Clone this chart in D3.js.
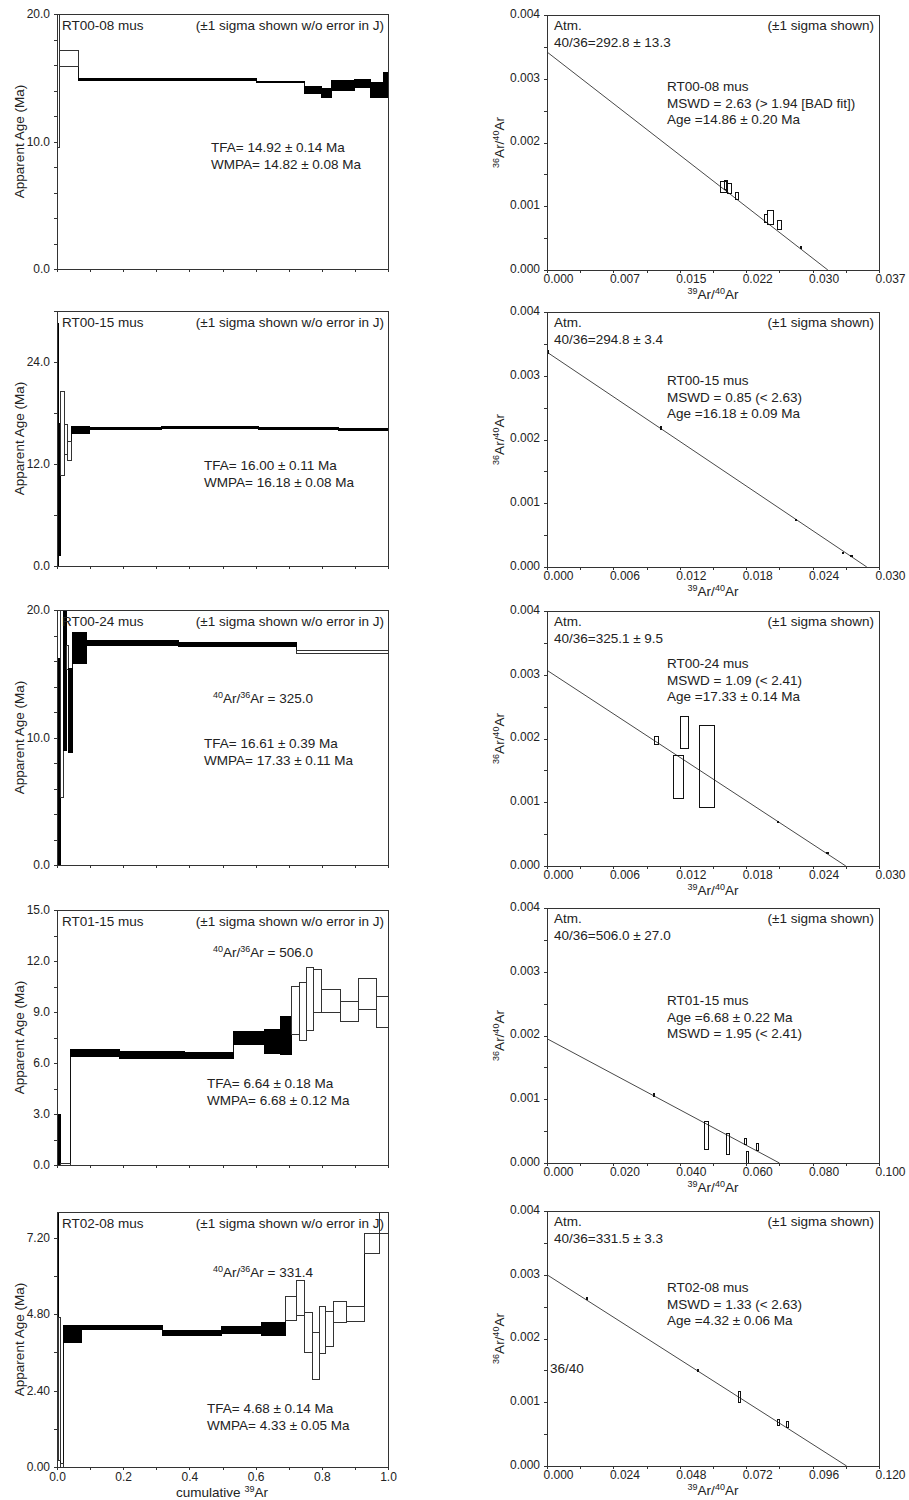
<!DOCTYPE html>
<html>
<head>
<meta charset="utf-8">
<script src="https://cdn.jsdelivr.net/npm/d3@7"></script>
<style>
  body { margin: 0; background: #fff; }
  text { font-family: "Liberation Sans", Arial, sans-serif; fill: #222; }
</style>
</head>
<body>
<svg id="chart" width="909" height="1500"></svg>
<script>
// ---- data ----
const samples = ["RT00-08 mus", "RT00-15 mus", "RT00-24 mus", "RT01-15 mus", "RT02-08 mus"]

// age spectra steps: [cum 39Ar start, cum 39Ar end, age -1s, age +1s, in plateau]
const spec0008 = [
  [0.000, 0.007, 9.5, 21.0, 0],
  [0.007, 0.064, 15.85, 17.1, 0],
  [0.064, 0.603, 14.80, 14.92, 1],
  [0.603, 0.749, 14.60, 14.72, 1],
  [0.749, 0.800, 13.80, 14.33, 1],
  [0.800, 0.828, 13.44, 14.15, 1],
  [0.828, 0.900, 14.02, 14.80, 1],
  [0.900, 0.946, 14.23, 14.86, 1],
  [0.946, 0.986, 13.44, 14.60, 1],
  [0.986, 1.000, 13.49, 15.38, 1]
]
const spec0015 = [
  [0.000, 0.005, 0.0, 28.5, 1],
  [0.005, 0.012, 1.2, 16.8, 1],
  [0.012, 0.024, 10.7, 20.5, 0],
  [0.024, 0.031, 13.1, 16.6, 0],
  [0.031, 0.044, 12.4, 14.6, 0],
  [0.044, 0.097, 15.6, 16.45, 1],
  [0.097, 0.316, 16.05, 16.25, 1],
  [0.316, 0.608, 16.2, 16.45, 1],
  [0.608, 0.850, 16.1, 16.25, 1],
  [0.850, 1.000, 16.0, 16.15, 1]
]
const spec0024 = [
  [0.000, 0.012, 0.0, 16.2, 1],
  [0.012, 0.020, 5.3, 21.0, 0],
  [0.020, 0.029, 9.0, 21.0, 1],
  [0.029, 0.034, 15.3, 17.2, 0],
  [0.034, 0.046, 8.8, 15.4, 1],
  [0.046, 0.088, 15.8, 18.2, 1],
  [0.088, 0.367, 17.2, 17.6, 1],
  [0.367, 0.724, 17.15, 17.45, 1],
  [0.724, 1.000, 16.55, 16.8, 0]
]
const spec0115 = [
  [0.000, 0.003, 2.9, 16.0, 1],
  [0.003, 0.010, 0.0, 2.95, 1],
  [0.010, 0.042, 0.0, 0.1, 0],
  [0.042, 0.190, 6.38, 6.81, 1],
  [0.190, 0.385, 6.29, 6.67, 1],
  [0.385, 0.533, 6.25, 6.64, 1],
  [0.533, 0.628, 7.07, 7.85, 1],
  [0.628, 0.674, 6.58, 7.98, 1],
  [0.674, 0.709, 6.52, 8.72, 1],
  [0.709, 0.734, 7.7, 10.5, 0],
  [0.734, 0.754, 7.3, 10.73, 0],
  [0.754, 0.774, 7.9, 11.6, 0],
  [0.774, 0.800, 8.95, 11.5, 0],
  [0.800, 0.855, 9.0, 10.3, 0],
  [0.855, 0.912, 8.47, 9.63, 0],
  [0.912, 0.964, 9.15, 11.0, 0],
  [0.964, 1.000, 8.1, 9.9, 0]
]
const spec0208 = [
  [0.000, 0.004, 4.7, 8.2, 1],
  [0.004, 0.010, 0.2, 4.7, 0],
  [0.010, 0.020, 0.0, 0.1, 0],
  [0.020, 0.075, 3.91, 4.43, 1],
  [0.075, 0.319, 4.32, 4.43, 1],
  [0.319, 0.497, 4.11, 4.28, 1],
  [0.497, 0.618, 4.18, 4.40, 1],
  [0.618, 0.690, 4.12, 4.53, 1],
  [0.690, 0.725, 4.59, 5.36, 0],
  [0.725, 0.749, 4.74, 5.86, 0],
  [0.749, 0.771, 3.59, 4.84, 0],
  [0.771, 0.792, 2.76, 4.21, 0],
  [0.792, 0.810, 3.55, 5.03, 0],
  [0.810, 0.835, 3.78, 4.87, 0],
  [0.835, 0.875, 4.53, 5.18, 0],
  [0.875, 0.928, 4.58, 5.03, 0],
  [0.928, 0.974, 6.71, 7.33, 0],
  [0.974, 1.000, 7.33, 8.2, 0]
]
const spectra = [spec0008, spec0015, spec0024, spec0115, spec0208]
const ageMax = [20, 30, 20, 15, 8]
const ageLabels = [[0, 10, 20], [0, 12, 24], [0, 10, 20], [0, 3, 6, 9, 12, 15], [0, 2.4, 4.8, 7.2]]
const ageMinor = [2, 6, 2, 1.5, 1.2]
const ageFmt = [".1f", ".1f", ".1f", ".1f", ".2f"]
const tfa = ["TFA= 14.92 ± 0.14 Ma", "TFA= 16.00 ± 0.11 Ma", "TFA= 16.61 ± 0.39 Ma", "TFA= 6.64 ± 0.18 Ma", "TFA= 4.68 ± 0.14 Ma"]
const wmpa = ["WMPA= 14.82 ± 0.08 Ma", "WMPA= 16.18 ± 0.08 Ma", "WMPA= 17.33 ± 0.11 Ma", "WMPA= 6.68 ± 0.12 Ma", "WMPA= 4.33 ± 0.05 Ma"]
const trapped = [null, null, "325.0", "506.0", "331.4"]

// isochron points: [39Ar/40Ar, ±1s, 36Ar/40Ar, ±1s]
const iso0008 = [
  [0.01967, 0.00028, 0.001300, 0.000090],
  [0.01998, 0.00015, 0.001335, 0.000065],
  [0.02035, 0.00022, 0.001275, 0.000075],
  [0.02119, 0.00013, 0.001165, 0.000055],
  [0.02437, 0.00016, 0.000808, 0.000058],
  [0.02487, 0.00033, 0.000825, 0.000115],
  [0.02590, 0.00024, 0.000710, 0.000070],
  [0.02829, 0.00008, 0.000356, 0.000015]
]
const iso0015 = [
  [0.00010, 0.00005, 0.003370, 0.00002],
  [0.01028, 0.00005, 0.002180, 0.00002],
  [0.02251, 0.00006, 0.000732, 0.00001],
  [0.02676, 0.00005, 0.000225, 0.00001],
  [0.02751, 0.00006, 0.000167, 0.00001]
]
const iso0024 = [
  [0.00990, 0.00015, 0.001965, 0.000065],
  [0.01188, 0.00042, 0.001394, 0.000337],
  [0.01240, 0.00035, 0.002097, 0.000248],
  [0.01448, 0.00068, 0.001555, 0.000644],
  [0.02085, 0.00006, 0.000693, 0.00001],
  [0.02535, 0.00005, 0.000208, 0.00001]
]
const iso0115 = [
  [0.03227, 0.00010, 0.001066, 0.00002],
  [0.04805, 0.00050, 0.000430, 0.000224],
  [0.05445, 0.00040, 0.000301, 0.000162],
  [0.05974, 0.00020, 0.000340, 0.000047],
  [0.06049, 0.00025, 0.000080, 0.000100],
  [0.06354, 0.00030, 0.000247, 0.000057]
]
const iso0208 = [
  [0.01423, 0.00008, 0.002630, 0.00002],
  [0.05463, 0.00008, 0.001495, 0.00002],
  [0.06947, 0.00030, 0.001081, 0.000091],
  [0.08364, 0.00025, 0.000682, 0.000047],
  [0.08690, 0.00030, 0.000651, 0.000052]
]
const isochrons = [iso0008, iso0015, iso0024, iso0115, iso0208]
const isoXMax = [0.037, 0.030, 0.030, 0.100, 0.120]
const isoYInt = [0.00342, 0.00337, 0.00307, 0.00195, 0.00300]   // 36/40 intercept
const isoXInt = [0.0313, 0.0289, 0.0270, 0.0700, 0.1083]        // 39/40 intercept
const atm = ["40/36=292.8 ± 13.3", "40/36=294.8 ± 3.4", "40/36=325.1 ± 9.5", "40/36=506.0 ± 27.0", "40/36=331.5 ± 3.3"]
const isoText = [
  ["MSWD = 2.63 (> 1.94 [BAD fit])", "Age =14.86 ± 0.20 Ma"],
  ["MSWD = 0.85 (< 2.63)", "Age =16.18 ± 0.09 Ma"],
  ["MSWD = 1.09 (< 2.41)", "Age =17.33 ± 0.14 Ma"],
  ["Age =6.68 ± 0.22 Ma", "MSWD = 1.95 (< 2.41)"],
  ["MSWD = 1.33 (< 2.63)", "Age =4.32 ± 0.06 Ma"]
]

// ---- layout ----
const H = 255
const leftX = [57, 388], rightX = [547, 879]
const leftTop = [14, 311, 610, 910, 1212]
const rightTop = [15, 312, 611, 908, 1211]
const tfaPos = [[211, 138], [204, 159], [204, 138], [207, 178], [207, 201]]
const trappedPos = [null, null, [213, 93], [213, 47], [213, 65]]
const isoTextY = [76, 73, 57, 97, 81]

const svg = d3.select("#chart")
const fs = "13.5px"
const r6 = v => Math.round(v * 1e6) / 1e6

function clip(id, x0, x1, top) {
  svg.append("clipPath").attr("id", id)
    .append("rect").attr("x", x0).attr("y", top).attr("width", x1 - x0).attr("height", H)
}

function styleAxis(g) {
  g.select(".domain").remove()
  g.selectAll("line").attr("stroke", "#333").attr("shape-rendering", "crispEdges")
  g.selectAll("text").attr("font-size", "12px").attr("font-family", null)
}

// age spectrum panels
spectra.forEach((steps, i) => {
  const top = leftTop[i]
  const x = d3.scaleLinear().domain([0, 1]).range(leftX)
  const y = d3.scaleLinear().domain([0, ageMax[i]]).range([top + H, top])
  const g = svg.append("g")
  clip("cl" + i, leftX[0], leftX[1], top)

  const marks = g.append("g").attr("clip-path", `url(#cl${i})`)
  // connecting verticals between steps
  marks.selectAll("line").data(d3.pairs(steps)).join("line")
    .attr("x1", d => x(d[0][1])).attr("x2", d => x(d[0][1]))
    .attr("y1", d => y(Math.min(d[0][2], d[1][2])))
    .attr("y2", d => y(Math.max(d[0][3], d[1][3])))
    .attr("stroke", "#111").attr("shape-rendering", "crispEdges")
  marks.selectAll("rect").data(steps).join("rect")
    .attr("x", d => x(d[0]))
    .attr("width", d => x(d[1]) - x(d[0]))
    .attr("y", d => {
      const h = y(d[2]) - y(d[3])
      return h < 1.5 ? (y(d[2]) + y(d[3])) / 2 - 0.75 : y(d[3])
    })
    .attr("height", d => Math.max(1.5, y(d[2]) - y(d[3])))
    .attr("fill", d => d[4] ? "#000" : "#fff")
    .attr("stroke", d => d[4] ? "#000" : "#333")
    .attr("shape-rendering", "crispEdges")

  g.append("rect").attr("x", leftX[0]).attr("y", top)
    .attr("width", leftX[1] - leftX[0]).attr("height", H)
    .attr("fill", "none").attr("stroke", "#333").attr("shape-rendering", "crispEdges")

  const last = i === spectra.length - 1
  g.append("g").attr("transform", `translate(0,${top + H})`)
    .call(d3.axisBottom(x).tickValues(d3.range(0, 11).map(k => k / 10)).tickSize(3).tickPadding(2)
      .tickFormat((d, k) => last && k % 2 === 0 ? d3.format(".1f")(d) : ""))
    .call(styleAxis)

  const minors = d3.range(0, Math.floor(ageMax[i] / ageMinor[i] + 1e-6) + 1).map(k => r6(k * ageMinor[i]))
  const yt = Array.from(new Set(minors.concat(ageLabels[i]))).sort((a, b) => a - b)
  g.append("g").attr("transform", `translate(${leftX[0]},0)`)
    .call(d3.axisLeft(y).tickValues(yt).tickSize(3).tickPadding(4)
      .tickFormat(d => ageLabels[i].some(v => Math.abs(v - d) < 1e-6) ? d3.format(ageFmt[i])(d) : ""))
    .call(styleAxis)

  g.append("text").attr("transform", `translate(24,${top + H / 2}) rotate(-90)`)
    .attr("text-anchor", "middle").attr("font-size", fs).text("Apparent Age (Ma)")

  g.append("text").attr("x", leftX[0] + 5).attr("y", top + 16).attr("font-size", fs).text(samples[i])
  g.append("text").attr("x", leftX[1] - 4).attr("y", top + 16).attr("text-anchor", "end")
    .attr("font-size", fs).text("(±1 sigma shown w/o error in J)")

  g.append("text").attr("x", tfaPos[i][0]).attr("y", top + tfaPos[i][1]).attr("font-size", fs).text(tfa[i])
  g.append("text").attr("x", tfaPos[i][0]).attr("y", top + tfaPos[i][1] + 17).attr("font-size", fs).text(wmpa[i])

  if (trapped[i]) {
    const t = g.append("text").attr("x", trappedPos[i][0]).attr("y", top + trappedPos[i][1]).attr("font-size", fs)
    t.append("tspan").attr("font-size", "9px").attr("dy", -5).text("40")
    t.append("tspan").attr("dy", 5).text("Ar/")
    t.append("tspan").attr("font-size", "9px").attr("dy", -5).text("36")
    t.append("tspan").attr("dy", 5).text("Ar = " + trapped[i])
  }

  if (last) {
    const t = g.append("text").attr("x", 222).attr("y", top + H + 30).attr("text-anchor", "middle").attr("font-size", fs)
    t.append("tspan").text("cumulative ")
    t.append("tspan").attr("font-size", "9px").attr("dy", -5).text("39")
    t.append("tspan").attr("dy", 5).text("Ar")
  }
})

function arLabel(t, a, b) {
  t.append("tspan").attr("font-size", "9px").attr("dy", -5).text(a)
  t.append("tspan").attr("dy", 5).text("Ar/")
  t.append("tspan").attr("font-size", "9px").attr("dy", -5).text(b)
  t.append("tspan").attr("dy", 5).text("Ar")
}

// isochron panels
isochrons.forEach((pts, i) => {
  const top = rightTop[i]
  const x = d3.scaleLinear().domain([0, isoXMax[i]]).range(rightX)
  const y = d3.scaleLinear().domain([0, 0.004]).range([top + H, top])
  const g = svg.append("g")
  clip("cr" + i, rightX[0], rightX[1], top)
  const marks = g.append("g").attr("clip-path", `url(#cr${i})`)

  marks.append("line")
    .attr("x1", x(0)).attr("y1", y(isoYInt[i]))
    .attr("x2", x(isoXInt[i])).attr("y2", y(0))
    .attr("stroke", "#333").attr("stroke-width", 0.9)

  marks.selectAll("rect").data(pts).join("rect")
    .attr("x", d => x(d[0] - d[1]))
    .attr("y", d => y(d[2] + d[3]))
    .attr("width", d => Math.max(1, x(d[0] + d[1]) - x(d[0] - d[1])))
    .attr("height", d => Math.max(1, y(d[2] - d[3]) - y(d[2] + d[3])))
    .attr("fill", "none").attr("stroke", "#111")
    .attr("shape-rendering", "crispEdges")

  g.append("rect").attr("x", rightX[0]).attr("y", top)
    .attr("width", rightX[1] - rightX[0]).attr("height", H)
    .attr("fill", "none").attr("stroke", "#333").attr("shape-rendering", "crispEdges")

  g.append("g").attr("transform", `translate(0,${top + H})`)
    .call(d3.axisBottom(x).tickValues(d3.range(0, 11).map(k => k * isoXMax[i] / 10)).tickSize(3).tickPadding(1)
      .tickFormat((d, k) => k % 2 === 0 ? d3.format(".3f")(d) : ""))
    .call(styleAxis)
    .call(a => a.selectAll("text").attr("text-anchor", "start").attr("x", -4))

  g.append("g").attr("transform", `translate(${rightX[0]},0)`)
    .call(d3.axisLeft(y).tickValues(d3.range(0, 9).map(k => k * 0.0005)).tickSize(3).tickPadding(4)
      .tickFormat((d, k) => k % 2 === 0 ? d3.format(".3f")(d) : ""))
    .call(styleAxis)
    .call(a => a.selectAll("text").attr("dy", "0.2em"))

  arLabel(g.append("text").attr("x", 713).attr("y", top + H + 29).attr("text-anchor", "middle").attr("font-size", fs), "39", "40")
  arLabel(g.append("text").attr("transform", `translate(504,${top + H / 2}) rotate(-90)`)
    .attr("text-anchor", "middle").attr("font-size", fs), "36", "40")

  g.append("text").attr("x", rightX[0] + 7).attr("y", top + 15).attr("font-size", fs).text("Atm.")
  g.append("text").attr("x", rightX[0] + 7).attr("y", top + 32).attr("font-size", fs).text(atm[i])
  g.append("text").attr("x", rightX[1] - 5).attr("y", top + 15).attr("text-anchor", "end")
    .attr("font-size", fs).text("(±1 sigma shown)")

  const lines = [samples[i]].concat(isoText[i])
  g.selectAll(".iso-t").data(lines).join("text")
    .attr("x", 667).attr("y", (d, k) => top + isoTextY[i] + k * 16.5)
    .attr("font-size", fs).text(d => d)

  if (i === 4) {
    g.append("text").attr("x", 550).attr("y", top + 162).attr("font-size", fs).text("36/40")
  }
})
</script>
</body>
</html>
